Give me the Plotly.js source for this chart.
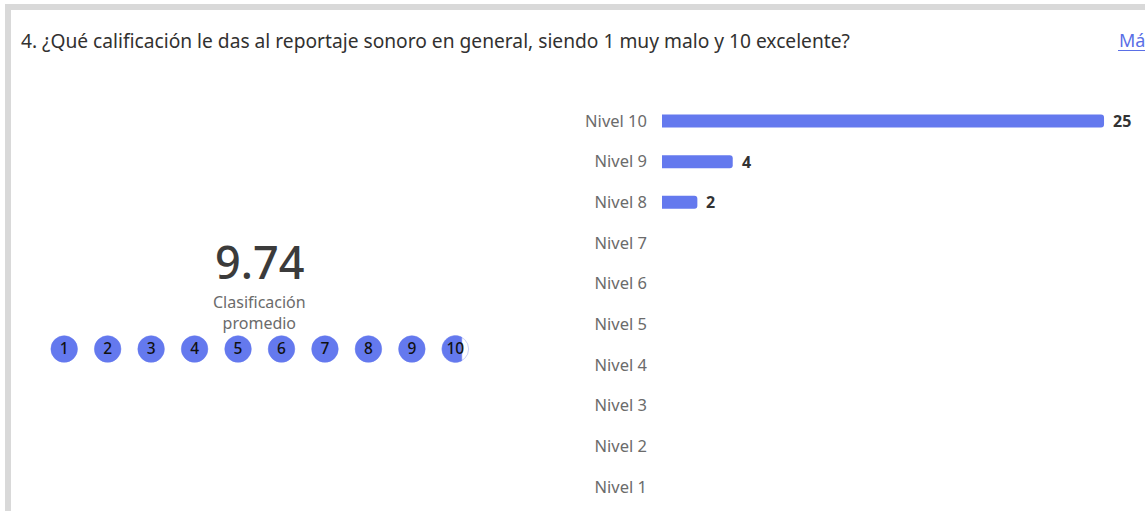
<!DOCTYPE html>
<html>
<head>
<meta charset="utf-8">
<script src="https://cdn.plot.ly/plotly-3.0.1.min.js"></script>
<style>
html,body{margin:0;padding:0;background:#fff;}
#chart{width:1145px;height:511px;}
</style>
</head>
<body>
<div id="chart"></div>
<script>
// ---- data ----
var questionTitle = "4. ¿Qué calificación le das al reportaje sonoro en general, siendo 1 muy malo y 10 excelente?";
var linkText = "Más";
var categories = ["Nivel 10","Nivel 9","Nivel 8","Nivel 7","Nivel 6","Nivel 5","Nivel 4","Nivel 3","Nivel 2","Nivel 1"];
var levels = [10,9,8,7,6,5,4,3,2,1];
var counts = [25,4,2,0,0,0,0,0,0,0];
var ratingScale = [1,2,3,4,5,6,7,8,9,10];
var averageLabel = "Clasificación<br>promedio";

// ---- derived ----
var total = counts.reduce(function(a,b){return a+b;},0);
var weighted = 0;
for (var i=0;i<counts.length;i++) weighted += counts[i]*levels[i];
var average = weighted/total;

var BLUE = "#6479ee";
var FONT = "Noto Sans, Open Sans, sans-serif";

// left panel pixel-space axes (x2/y2)
var cx0 = 64.2, cdx = 43.46, cy = 349, r = 13.3;

var shapes = [
  {type:"rect", xref:"x2", yref:"y2", x0:5, x1:1145, y0:4, y1:10, fillcolor:"#d9d9d9", line:{width:0}, layer:"below"},
  {type:"rect", xref:"x2", yref:"y2", x0:5, x1:11, y0:4, y1:511, fillcolor:"#d9d9d9", line:{width:0}, layer:"below"},
  {type:"line", xref:"x2", yref:"y2", x0:1118, x1:1145, y0:50.5, y1:50.5, line:{color:"#5a6fe6", width:1}}
];

var numX = [], numY = [], numT = [];
ratingScale.forEach(function(v, idx){
  var x = cx0 + idx*cdx;
  var frac = Math.max(0, Math.min(1, average - (v-1)));
  if (frac >= 1) {
    shapes.push({type:"circle", xref:"x2", yref:"y2", x0:x-r, x1:x+r, y0:cy-r, y1:cy+r, fillcolor:BLUE, line:{color:BLUE, width:0.5}, layer:"below"});
  } else {
    shapes.push({type:"circle", xref:"x2", yref:"y2", x0:x-r, x1:x+r, y0:cy-r, y1:cy+r, fillcolor:"#ffffff", line:{color:"#c9d0f5", width:1}, layer:"below"});
    if (frac > 0) {
      var xc = x - r + 2*r*frac;
      var a0 = Math.acos(Math.max(-1, Math.min(1, (xc - x)/r)));
      var pts = [];
      var N = 48;
      for (var k=0;k<=N;k++){
        var a = a0 + (2*Math.PI - 2*a0)*k/N;
        pts.push((x + r*Math.cos(a)).toFixed(2) + "," + (cy - r*Math.sin(a)).toFixed(2));
      }
      var path = "M " + pts.join(" L ") + " Z";
      shapes.push({type:"path", xref:"x2", yref:"y2", path:path, fillcolor:BLUE, line:{color:BLUE, width:0.5}, layer:"below"});
    }
  }
  numX.push(x); numY.push(cy+0.8); numT.push(String(v));
});

var barTrace = {
  type:"bar", orientation:"h",
  x: counts, y: categories,
  xaxis:"x", yaxis:"y",
  marker:{color:BLUE, cornerradius:3, line:{width:0}},
  hoverinfo:"none"
};
var numTrace = {
  type:"scatter", mode:"text", x:numX, y:numY, text:numT,
  xaxis:"x2", yaxis:"y2",
  textfont:{family:FONT, size:15.5, color:"#111111", weight:500},
  textposition:"middle center", hoverinfo:"none"
};

var annotations = [
  {xref:"x2", yref:"y2", x:19, y:40, xanchor:"left", yanchor:"middle", showarrow:false,
   text:questionTitle, font:{family:FONT, size:19.2, color:"#323130"}},
  {xref:"x2", yref:"y2", x:1117, y:40, xanchor:"left", yanchor:"middle", showarrow:false,
   text:linkText, font:{family:FONT, size:18, color:"#5a6fe6"}},
  {xref:"x2", yref:"y2", x:259.5, y:261, xanchor:"center", yanchor:"middle", showarrow:false,
   text:average.toFixed(2), font:{family:FONT, size:45, color:"#3b3b3b", weight:500}},
  {xref:"x2", yref:"y2", x:259.5, y:312, xanchor:"center", yanchor:"middle", showarrow:false,
   text:averageLabel, font:{family:FONT, size:16, color:"#6b6b6b"}}
];
counts.forEach(function(c, i){
  if (c > 0) annotations.push({xref:"x", yref:"y", x:c, y:categories[i], xanchor:"left", yanchor:"middle",
    xshift:7, showarrow:false, text:"<b>"+c+"</b>", font:{family:FONT, size:16, color:"#333333"}});
});

var W = 1145, H = 511;
var layout = {
  width:W, height:H,
  margin:{l:0,r:0,t:0,b:0,pad:0},
  paper_bgcolor:"#ffffff", plot_bgcolor:"rgba(0,0,0,0)",
  showlegend:false,
  bargap:0.68,
  xaxis:{domain:[662/W, 1139.4/W], range:[0,27], visible:false, fixedrange:true},
  yaxis:{domain:[(H-507.3)/H, (H-100.7)/H], type:"category", autorange:"reversed",
         showgrid:false, zeroline:false, showline:false, ticks:"", ticklabelstandoff:14,
         tickfont:{family:FONT, size:16.5, color:"#6b6b6b"}, fixedrange:true},
  xaxis2:{domain:[0,1], range:[0,W], anchor:"y2", visible:false, fixedrange:true},
  yaxis2:{domain:[0,1], range:[H,0], anchor:"x2", visible:false, fixedrange:true},
  shapes:shapes,
  annotations:annotations
};

Plotly.newPlot("chart", [barTrace, numTrace], layout, {displayModeBar:false, staticPlot:true});
</script>
</body>
</html>
